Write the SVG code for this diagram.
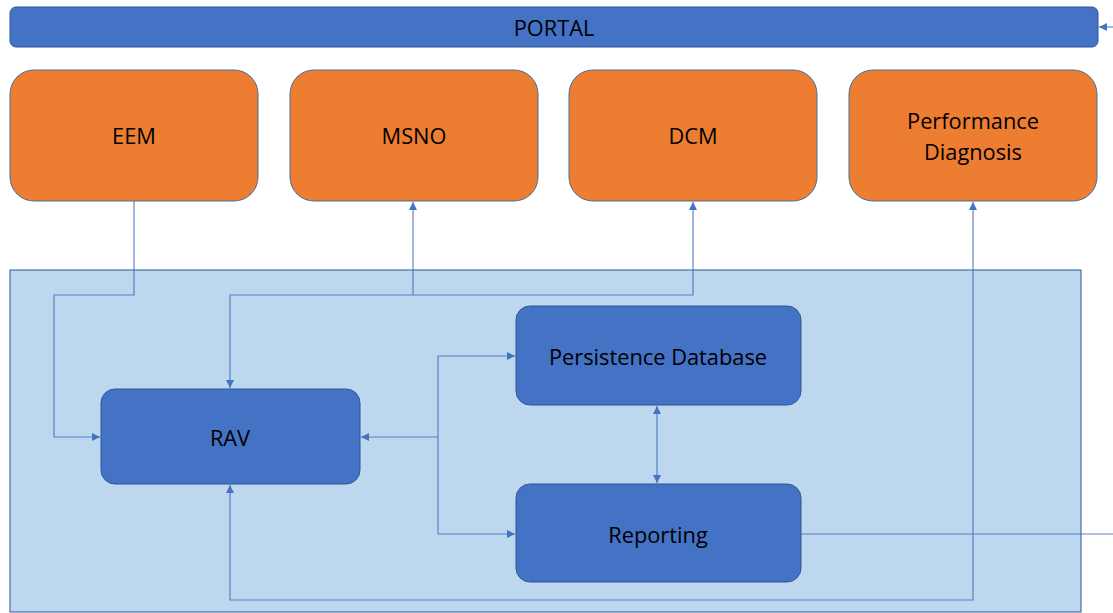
<svg xmlns="http://www.w3.org/2000/svg" width="1113" height="613" viewBox="0 0 1113 613">
<style>
.t{font-family:"Open Sans","Noto Sans",sans-serif;font-size:21.8px;fill:#000;text-anchor:middle;dominant-baseline:central}
.org{fill:#ED7D31;stroke:#41719C;stroke-width:1}
.blu{fill:#4472C4;stroke:#2F5597;stroke-width:1}
.c{fill:none;stroke:#4472C4;stroke-width:1.2;stroke-opacity:0.85}
</style>
<defs>
<marker id="a" viewBox="0 0 10 10" refX="10" refY="5" markerWidth="8" markerHeight="8" markerUnits="userSpaceOnUse" orient="auto-start-reverse">
<path d="M0,0 L10,5 L0,10 z" fill="#4472C4"/>
</marker>
</defs>
<rect x="0" y="0" width="1113" height="613" fill="#fff"/>
<g id="container"><rect x="10" y="270" width="1071" height="342" fill="#BDD7EE" stroke="#2F5597" stroke-width="1"/></g>
<g id="portal"><rect class="blu" x="10" y="7" width="1088" height="40" rx="6"/><text class="t" x="554" y="27">PORTAL</text></g>
<g id="eem"><rect class="org" x="10" y="70" width="248" height="131" rx="24"/><text class="t" x="134" y="135">EEM</text></g>
<g id="msno"><rect class="org" x="290" y="70" width="248" height="131" rx="24"/><text class="t" x="414" y="135">MSNO</text></g>
<g id="dcm"><rect class="org" x="569" y="70" width="248" height="131" rx="24"/><text class="t" x="693" y="135">DCM</text></g>
<g id="perf"><rect class="org" x="849" y="70" width="248" height="131" rx="24"/><text class="t" x="973" y="120">Performance</text><text class="t" x="973" y="151">Diagnosis</text></g>
<g id="rav"><rect class="blu" x="101" y="389" width="259" height="95" rx="14"/><text class="t" x="230" y="437">RAV</text></g>
<g id="pdb"><rect class="blu" x="516" y="306" width="285" height="99" rx="14"/><text class="t" x="658" y="356">Persistence Database</text></g>
<g id="rep"><rect class="blu" x="516" y="484" width="285" height="98" rx="14"/><text class="t" x="658" y="534">Reporting</text></g>
<g id="connectors">
<path class="c" d="M134,201 V295 H54 V437 H100" marker-end="url(#a)"/>
<path class="c" d="M230,388 V295 H693 V202" marker-start="url(#a)" marker-end="url(#a)"/>
<path class="c" d="M413,295 V202" marker-end="url(#a)"/>
<path class="c" d="M438,437 H361" marker-end="url(#a)"/>
<path class="c" d="M515,356 H438 V534 H515" marker-start="url(#a)" marker-end="url(#a)"/>
<path class="c" d="M657,406 V483" marker-start="url(#a)" marker-end="url(#a)"/>
<path class="c" d="M801,534 H1113"/>
<path class="c" d="M230,485 V600 H973 V202" marker-start="url(#a)" marker-end="url(#a)"/>
<path class="c" d="M1113,27 H1099" marker-end="url(#a)"/>
</g>
</svg>
